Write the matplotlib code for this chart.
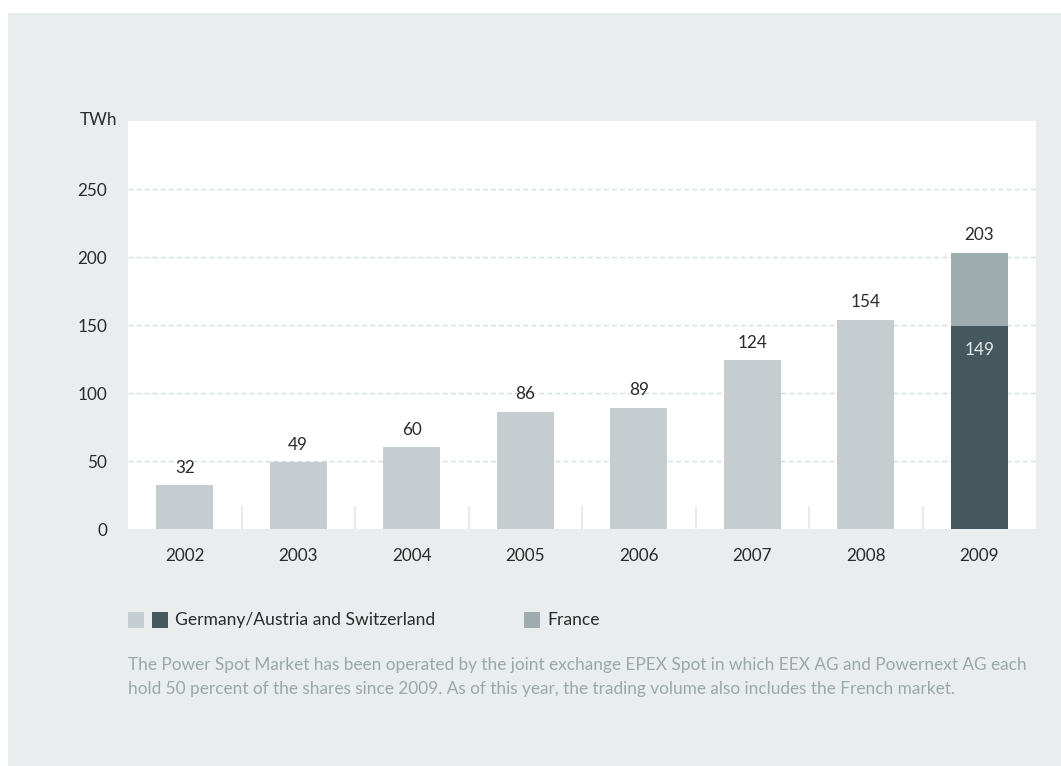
import matplotlib.pyplot as plt
from matplotlib.patches import Rectangle

plt.rcParams['font.family'] = ['Lato', 'DejaVu Sans']

years = ['2002', '2003', '2004', '2005', '2006', '2007', '2008', '2009']
germany = [32, 49, 60, 86, 89, 124, 154, 149]
france = [0, 0, 0, 0, 0, 0, 0, 54]
totals = [32, 49, 60, 86, 89, 124, 154, 203]

legend_labels = ['Germany/Austria and Switzerland', 'France']
note = ('The Power Spot Market has been operated by the joint exchange EPEX Spot in which EEX AG and Powernext AG each\n'
        'hold 50 percent of the shares since 2009. As of this year, the trading volume also includes the French market.')

panel = '#e9eded'
light = '#c5cdd0'
dark = '#45585e'
fr_col = '#9eabaf'
txt = '#2b2b2b'

W, H = 1061, 766
fig = plt.figure(figsize=(W / 100, H / 100), dpi=100)
fig.patch.set_facecolor('white')
fig.patches.append(Rectangle((8 / W, 0), 1, 1 - 13 / H, transform=fig.transFigure,
                             facecolor=panel, edgecolor='none', zorder=-10))

ax = fig.add_axes([128 / W, (H - 529) / H, 908 / W, 408 / H])
ax.set_facecolor('white')

x = list(range(len(years)))
colors = [light] * (len(years) - 1) + [dark]
ax.bar(x, germany, width=0.5, color=colors, zorder=3)
ax.bar(x, france, bottom=germany, width=0.5, color=fr_col, zorder=3)

for i, t in enumerate(totals):
    ax.annotate(str(t), (i, t), xytext=(0, 7), textcoords='offset points',
                ha='center', va='bottom', fontsize=12.3, color=txt)
ax.annotate(str(germany[-1]), (x[-1], germany[-1]), xytext=(0, -11), textcoords='offset points',
            ha='center', va='top', fontsize=12.3, color='#e4eaea')

ax.set_xlim(-0.5, len(years) - 0.5)
ax.set_ylim(0, 300)
ax.set_yticks([0, 50, 100, 150, 200, 250])
for y in [50, 100, 150, 200, 250]:
    ln = ax.axhline(y, color='#d3dcdc', lw=1, zorder=1)
    ln.set_dashes([3.6, 2.2])

for s in [i + 0.5 for i in range(len(years) - 1)]:
    ax.plot([s, s], [0, 17], color='#e6eaea', lw=1.5, zorder=2, solid_capstyle='butt')

ax.set_xticks(x)
ax.set_xticklabels(years)
ax.tick_params(axis='both', length=0, labelsize=12.3, labelcolor=txt)
ax.tick_params(axis='y', pad=15)
ax.tick_params(axis='x', pad=14)
for sp in ax.spines.values():
    sp.set_visible(False)

fig.text(80 / W, 1 - 120 / H, 'TWh', fontsize=12.3, color=txt, va='center', ha='left')

# legend drawn by hand
def square(px, py, c):
    fig.patches.append(Rectangle((px / W, 1 - (py + 16) / H), 16 / W, 16 / H,
                                 transform=fig.transFigure, facecolor=c, edgecolor='none'))

square(128, 612, light)
square(152, 612, dark)
fig.text(175 / W, 1 - 620 / H, legend_labels[0], fontsize=12.6, color=txt, va='center')
square(524, 612, fr_col)
fig.text(547 / W, 1 - 620 / H, legend_labels[1], fontsize=12.6, color=txt, va='center')

fig.text(128 / W, 1 - 677 / H, note, fontsize=12.4, color='#9aa8ab', va='center',
         linespacing=1.6)

fig.savefig('out.png', dpi=100, facecolor=fig.get_facecolor())
